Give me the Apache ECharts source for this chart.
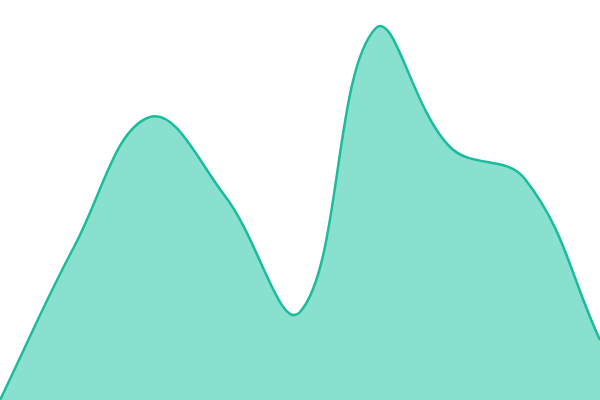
<!DOCTYPE html>
<html><head><meta charset="utf-8">
<script src="https://cdn.jsdelivr.net/npm/echarts@6/dist/echarts.min.js"></script>
<style>html,body{margin:0;padding:0;background:#fff}#c{width:600px;height:400px}</style>
</head><body><div id="c"></div>
<script>
var categories = ['1','2','3','4','5','6','7','8','9'];
var values = [0, 155, 283, 204, 88, 371, 253, 221, 60];

var SMOOTH = 0.4;
function smoothPath(pts, box) {
  function clamp(p) {
    return [Math.min(Math.max(p[0], box.x), box.x + box.width),
            Math.min(Math.max(p[1], box.y), box.y + box.height)];
  }
  var n = pts.length;
  var cps = pts.map(function (p, i) {
    var prev = pts[i > 0 ? i - 1 : i];
    var next = pts[i < n - 1 ? i + 1 : i];
    var d0 = Math.hypot(p[0] - prev[0], p[1] - prev[1]);
    var d1 = Math.hypot(next[0] - p[0], next[1] - p[1]);
    var s01 = d0 / (d0 + d1 || 1), s12 = d1 / (d0 + d1 || 1);
    var fa = SMOOTH * s01, fb = SMOOTH * s12;
    var vx = next[0] - prev[0], vy = next[1] - prev[1];
    return {
      before: clamp([p[0] - fa * vx, p[1] - fa * vy]),
      after: clamp([p[0] + fb * vx, p[1] + fb * vy])
    };
  });
  var d = 'M' + pts[0][0] + ' ' + pts[0][1];
  for (var i = 1; i < n; i++) {
    var a = cps[i - 1].after, b = cps[i].before, p = pts[i];
    d += ' C' + a[0] + ' ' + a[1] + ' ' + b[0] + ' ' + b[1] + ' ' + p[0] + ' ' + p[1];
  }
  return d;
}

var chart = echarts.init(document.getElementById('c'));
chart.setOption({
  animation: false,
  grid: {left: 0, right: 0, top: 0, bottom: 0},
  xAxis: {type: 'category', data: categories, boundaryGap: false, show: false},
  yAxis: {type: 'value', min: 0, max: 400, show: false},
  series: [{
    type: 'custom',
    data: values.map(function (v, i) { return [i, v]; }),
    renderItem: function (params, api) {
      if (params.dataIndex !== 0) return null;
      var pts = values.map(function (v, i) { return api.coord([i, v]); });
      var base = api.coord([0, 0])[1];
      var line = smoothPath(pts, params.coordSys);
      var last = pts[pts.length - 1];
      var area = line + ' L' + last[0] + ' ' + base + ' L' + pts[0][0] + ' ' + base + ' Z';
      return {
        type: 'group',
        children: [
          {type: 'path', shape: {pathData: area}, style: {fill: '#8ae0cf', stroke: null}},
          {type: 'path', shape: {pathData: line}, style: {fill: null, stroke: '#1abc9c', lineWidth: 2.5}}
        ]
      };
    }
  }]
});
</script></body></html>
